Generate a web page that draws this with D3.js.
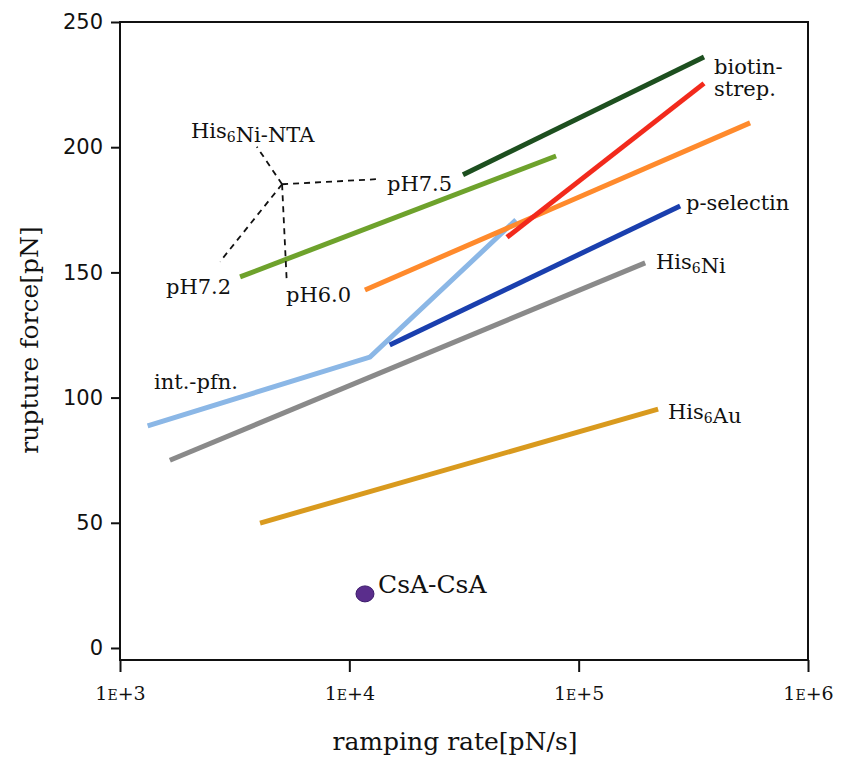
<!DOCTYPE html>
<html>
<head>
<meta charset="utf-8">
<script src="https://cdn.jsdelivr.net/npm/d3@7"></script>
<style>
  body { margin: 0; background: #fff; }
  text { font-family: "DejaVu Serif", "Liberation Serif", serif; fill: #111; }
</style>
</head>
<body>
<svg id="chart" width="843" height="757"></svg>
<script>
// series: [ramping rate (pN/s), rupture force (pN)]
const biotinStrep = [[3.13e4, 189], [3.52e5, 236]];
const redLine = [[4.87e4, 164], [3.52e5, 225.5]];
const pH60 = [[1.17e4, 143], [5.59e5, 209.7]];
const pH72 = [[3.34e3, 148.2], [7.97e4, 196.5]];
const pSelectin = [[1.5e4, 121], [2.77e5, 176.5]];
const his6Ni = [[1.65e3, 75], [1.95e5, 153.8]];
const intPfn = [[1.32e3, 88.7], [1.23e4, 116.2], [5.33e4, 171]];
const his6Au = [[4.08e3, 49.9], [2.22e5, 95.4]];
const csa = [[1.17e4, 21.6]];

const series = [
    { data: pH72, color: "#6ea22c" },
    { data: biotinStrep, color: "#1d4f1f" },
    { data: his6Ni, color: "#8a8a8a" },
    { data: his6Au, color: "#d99a1e" },
    { data: intPfn, color: "#8bb7e6" },
    { data: pSelectin, color: "#1a3fae" },
    { data: pH60, color: "#ff8a2c" },
    { data: redLine, color: "#f22a1c" }
];

const xTicks = [1e3, 1e4, 1e5, 1e6];
const yTicks = [0, 50, 100, 150, 200, 250];

// hub of the dashed His6Ni-NTA pointer and its four ends
const hub = [5.09e3, 185.2];
const spokes = [[3.95e3, 200.2], [1.36e4, 187.3], [2.73e3, 154.3], [5.33e3, 147]];

const svg = d3.select("#chart");
const margin = { left: 120, top: 22, right: 35, bottom: 97 };
const width = 843 - margin.left - margin.right;
const height = 757 - margin.top - margin.bottom;

const x = d3.scaleLog().domain([1e3, 1e6]).range([margin.left, margin.left + width]);
const y = d3.scaleLinear().domain([-4.8, 250]).range([margin.top + height, margin.top]);

// frame
svg.append("rect")
    .attr("x", margin.left).attr("y", margin.top)
    .attr("width", width).attr("height", height)
    .attr("fill", "none").attr("stroke", "#111").attr("stroke-width", 2);

// y axis
const yAxis = svg.append("g")
    .attr("transform", `translate(${margin.left},0)`)
    .call(d3.axisLeft(y).tickValues(yTicks).tickSize(9).tickPadding(8));
yAxis.select(".domain").remove();
yAxis.selectAll("line").attr("stroke", "#111").attr("stroke-width", 2);
yAxis.selectAll("text")
    .style("font-family", "'DejaVu Sans', sans-serif")
    .style("font-size", "21px").attr("fill", "#111");

// x axis with small-caps E
const xAxis = svg.append("g")
    .attr("transform", `translate(0,${margin.top + height})`)
    .call(d3.axisBottom(x).tickValues(xTicks).tickSize(12).tickFormat(""));
xAxis.select(".domain").remove();
xAxis.selectAll("line").attr("stroke", "#111").attr("stroke-width", 2);
xAxis.selectAll(".tick").append("text")
    .attr("y", 40)
    .attr("text-anchor", "middle")
    .style("font-size", "19px")
    .each(function(d) {
        const t = d3.select(this);
        t.append("tspan").text("1");
        t.append("tspan").text("E").style("font-size", "14px");
        t.append("tspan").text("+" + Math.round(Math.log10(d)));
    });

// axis titles
svg.append("text")
    .attr("x", 455).attr("y", 750)
    .attr("text-anchor", "middle")
    .style("font-size", "25px")
    .text("ramping rate[pN/s]");

svg.append("text")
    .attr("transform", "translate(38,340) rotate(-90)")
    .attr("text-anchor", "middle")
    .style("font-size", "25px")
    .text("rupture force[pN]");

// lines
const line = d3.line().x(d => x(d[0])).y(d => y(d[1]));
svg.append("g").selectAll("path")
    .data(series)
    .enter()
    .append("path")
    .attr("d", d => line(d.data))
    .attr("fill", "none")
    .attr("stroke", d => d.color)
    .attr("stroke-width", 5);

// CsA-CsA point
svg.selectAll(".csa")
    .data(csa)
    .enter()
    .append("ellipse")
    .attr("cx", d => x(d[0]))
    .attr("cy", d => y(d[1]))
    .attr("rx", 9).attr("ry", 8)
    .attr("fill", "#5a2d8c")
    .attr("stroke", "#3b1a6a").attr("stroke-width", 1);

// dashed pointers
svg.append("g").selectAll("line")
    .data(spokes)
    .enter()
    .append("line")
    .attr("x1", x(hub[0])).attr("y1", y(hub[1]))
    .attr("x2", d => x(d[0])).attr("y2", d => y(d[1]))
    .attr("stroke", "#111")
    .attr("stroke-width", 1.8)
    .attr("stroke-dasharray", "6,5");

// labels
function label(px, py, parts, size) {
    const t = svg.append("text")
        .attr("x", px).attr("y", py)
        .style("font-size", (size || 21) + "px");
    parts.forEach(p => {
        if (p === "6") {
            t.append("tspan").text("6").style("font-size", "14px").attr("dy", 4);
            t.append("tspan").attr("dy", -4).text("");
        } else {
            t.append("tspan").text(p);
        }
    });
    return t;
}

label(191, 138, ["His", "6", "Ni-NTA"]);
label(387, 191, ["pH7.5"]);
label(166, 294, ["pH7.2"]);
label(286, 302, ["pH6.0"]);
label(154, 389, ["int.-pfn."]);
label(686, 210, ["p-selectin"]);
label(656, 269, ["His", "6", "Ni"]);
label(714, 74, ["biotin-"]);
label(714, 96, ["strep."]);
label(668, 419, ["His", "6", "Au"]);
label(378, 593, ["CsA-CsA"], 25);
</script>
</body>
</html>
